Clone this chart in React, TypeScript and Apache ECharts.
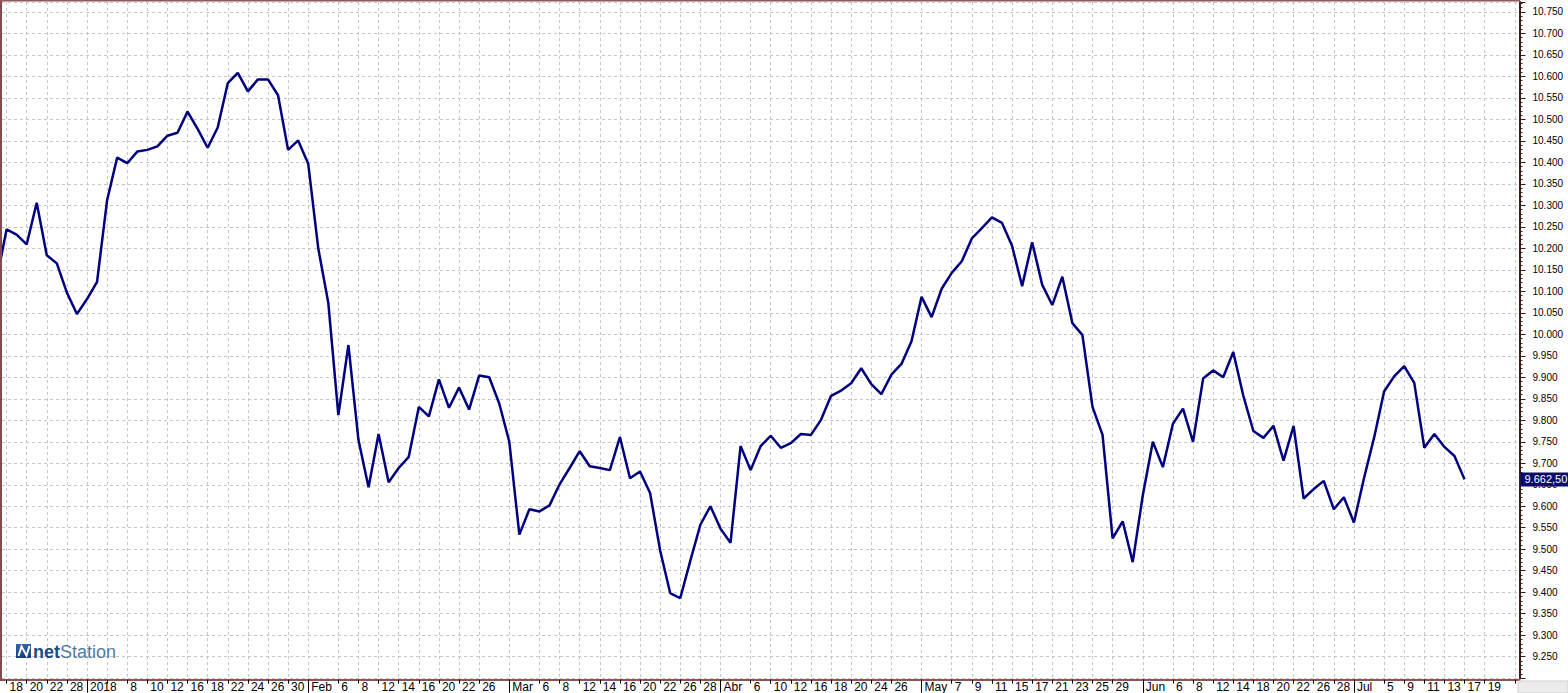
import React, { useEffect, useRef } from "react";
import * as echarts from "echarts";

// Closing values, one per trading day (index 0 = first, partly hidden bar)
const values = [
  10125, 10244, 10232, 10209, 10306, 10184, 10165, 10097, 10047, 10082,
  10122, 10312, 10411, 10398, 10425, 10429, 10437, 10462, 10469, 10518,
  10478, 10434, 10481, 10584, 10608, 10565, 10593, 10593, 10556, 10429,
  10451, 10397, 10200, 10073, 9812, 9975, 9754, 9644, 9768, 9656,
  9689, 9715, 9831, 9809, 9895, 9829, 9876, 9825, 9904, 9900,
  9839, 9750, 9534, 9593, 9588, 9602, 9651, 9689, 9728, 9693,
  9689, 9684, 9761, 9665, 9681, 9631, 9497, 9398, 9386, 9473,
  9557, 9600, 9548, 9515, 9740, 9684, 9740, 9764, 9736, 9747,
  9768, 9766, 9801, 9857, 9869, 9886, 9921, 9884, 9861, 9906,
  9931, 9984, 10087, 10040, 10106, 10143, 10170, 10223, 10247, 10272,
  10259, 10206, 10112, 10214, 10115, 10068, 10134, 10026, 9998, 9831,
  9766, 9525, 9565, 9470, 9625, 9750, 9691, 9792, 9827, 9750,
  9897, 9916, 9900, 9959, 9857, 9775, 9759, 9787, 9706, 9787,
  9618, 9640, 9659, 9593, 9621, 9562, 9665, 9759, 9867, 9902,
  9926, 9887, 9736, 9768, 9738, 9717, 9662.5,
];

// x-axis ticks (bar index) and their labels
const tickIndex = [
  1, 3, 5, 7, 9, 11, 13, 15, 17, 19, 21, 23, 25, 27, 29, 31, 34, 36, 38, 40,
  42, 44, 46, 48, 51, 54, 56, 58, 60, 62, 64, 66, 68, 70, 72, 75, 77, 79, 81, 83,
  85, 87, 89, 92, 95, 97, 99, 101, 103, 105, 107, 109, 111, 114, 117, 119, 121, 123, 125, 127,
  129, 131, 133, 135, 138, 140, 142, 144, 146, 148, 151,
];
const tickText = [
  "18", "20", "22", "28", "2018", "", "8", "10", "12", "16", "18", "22", "24", "26", "30", "Feb", "6", "8", "12", "14",
  "16", "20", "22", "26", "Mar", "6", "8", "12", "14", "16", "20", "22", "26", "28", "Abr", "6", "10", "12", "16", "18",
  "20", "24", "26", "May", "7", "9", "11", "15", "17", "21", "23", "25", "29", "Jun", "6", "8", "12", "14", "18", "20",
  "22", "26", "28", "Jul", "5", "9", "11", "13", "17", "19", "24",
];
const monthIndex = [9, 31, 51, 72, 92, 114, 135];

const yMin = 9200;
const yMax = 10773;
const yStep = 50;

const FONT = "'Liberation Sans', Arial, sans-serif";

function fmtThousands(v: number): string {
  const n = Math.round(v);
  const th = Math.floor(n / 1000);
  const rest = String(n % 1000).padStart(3, "0");
  return th > 0 ? `${th}.${rest}` : String(n);
}
function fmtBR(v: number): string {
  const int = Math.floor(v);
  const dec = Math.round((v - int) * 100);
  return `${fmtThousands(int)},${String(dec).padStart(2, "0")}`;
}

export default function App() {
  const ref = useRef<HTMLDivElement>(null);
  useEffect(() => {
    document.body.style.margin = "0";
    document.body.style.overflow = "hidden";
    const chart = echarts.init(ref.current!, null, { renderer: "svg" });
    const a = -3.5;
    const b = 10.055;
    const gridLeft = 2;
    const gridRight = 1519.5;
    const xMin = (gridLeft - a) / b;
    const xMax = (gridRight - a) / b;
    const labelOf = new Map<number, string>(tickIndex.map((i, k) => [i, tickText[k]]));
    const labelIdx = tickIndex.filter((_, k) => tickText[k] !== "");
    const last = values[values.length - 1];

    chart.setOption({
      animation: false,
      backgroundColor: "#ffffff",
      grid: {
        left: gridLeft,
        right: 1568 - gridRight,
        top: 2,
        bottom: 693 - 678.2,
        containLabel: false,
      },
      xAxis: [
        {
          type: "value",
          min: xMin,
          max: xMax,
          position: "bottom",
          offset: 1.5,
          axisLine: { show: true, onZero: false, lineStyle: { color: "#8e5454", width: 2 } },
          axisTick: {
            show: true,
            customValues: tickIndex,
            length: 4,
            lineStyle: { color: "#000", width: 1 },
          },
          axisLabel: {
            show: true,
            customValues: labelIdx,
            formatter: (v: number) => labelOf.get(Math.round(v)) ?? "",
            align: "left",
            padding: [0, 0, 0, 3],
            margin: 1,
            fontSize: 12,
            color: "#000",
            fontFamily: FONT,
          },
          splitLine: { show: true, lineStyle: { color: "#c6c6c6", type: [3, 3], width: 1 } },
        },
        {
          type: "value",
          min: xMin,
          max: xMax,
          position: "bottom",
          offset: 1.5,
          axisLine: { show: false, onZero: false },
          axisTick: {
            show: true,
            customValues: monthIndex,
            length: 13,
            lineStyle: { color: "#000", width: 1 },
          },
          axisLabel: { show: false },
          splitLine: { show: false },
        },
      ],
      yAxis: {
        type: "value",
        position: "right",
        min: yMin,
        max: yMax,
        interval: yStep,
        axisLine: { show: true, onZero: false, lineStyle: { color: "#3e1c1c", width: 2 } },
        axisTick: { show: true, length: 6, lineStyle: { color: "#3e1c1c", width: 1 } },
        minorTick: { show: true, splitNumber: 5, length: 3, lineStyle: { color: "#3e1c1c", width: 1 } },
        axisLabel: {
          show: true,
          margin: 13,
          fontSize: 10,
          color: "#000",
          fontFamily: FONT,
          showMinLabel: false,
          showMaxLabel: false,
          formatter: (v: number) => fmtThousands(v),
        },
        splitLine: { show: true, lineStyle: { color: "#c6c6c6", type: [3, 3], width: 1 } },
      },
      series: [
        {
          type: "line",
          data: values.map((v, i) => [i, v]),
          symbol: "none",
          clip: true,
          lineStyle: { color: "#000080", width: 2.5 },
          markLine: {
            silent: true,
            symbol: "none",
            z: 10,
            lineStyle: { color: "rgba(0,0,0,0)", width: 0, opacity: 1 },
            data: [{ yAxis: last }],
            label: {
              show: true,
              position: "end",
              distance: 1,
              formatter: fmtBR(last),
              color: "#ffffff",
              opacity: 1,
              backgroundColor: "#0b0b6e",
              fontSize: 11,
              fontFamily: FONT,
              padding: [2, 4, 1, 4],
            },
          },
        },
      ],
      graphic: [
        { type: "rect", z: 100, shape: { x: 0, y: 0, width: 2, height: 681 }, style: { fill: "#7d4c4c" } },
        { type: "rect", z: 100, shape: { x: 0, y: 0, width: 1520, height: 1.5 }, style: { fill: "#8e5a5a" } },
        { type: "rect", z: 100, shape: { x: 1518, y: 681, width: 50, height: 12 }, style: { fill: "#ececec", stroke: "#d0d0d0", lineWidth: 1 } },
        {
          type: "rect",
          z: 100,
          shape: { x: 16, y: 644, width: 15, height: 14 },
          style: {
            fill: new echarts.graphic.LinearGradient(0, 0, 0, 1, [
              { offset: 0, color: "#2f67ad" },
              { offset: 1, color: "#173f78" },
            ]),
          },
        },
        {
          type: "polyline",
          z: 101,
          shape: { points: [[18.5, 656], [21.5, 646.5], [26.5, 655.5], [29.5, 646]] },
          style: { stroke: "#ffffff", lineWidth: 2, fill: null },
        },
        {
          type: "text",
          z: 101,
          x: 33,
          y: 652,
          style: {
            text: "net",
            font: `bold 18px ${FONT}`,
            fill: "#1c4a86",
            textVerticalAlign: "middle",
            verticalAlign: "middle",
          },
        },
        {
          type: "text",
          z: 101,
          x: 60,
          y: 652,
          style: {
            text: "Station",
            font: `18px ${FONT}`,
            fill: "#4e7aa8",
            textVerticalAlign: "middle",
            verticalAlign: "middle",
          },
        },
      ],
    });
    return () => chart.dispose();
  }, []);
  return <div ref={ref} style={{ width: 1568, height: 693 }} />;
}
